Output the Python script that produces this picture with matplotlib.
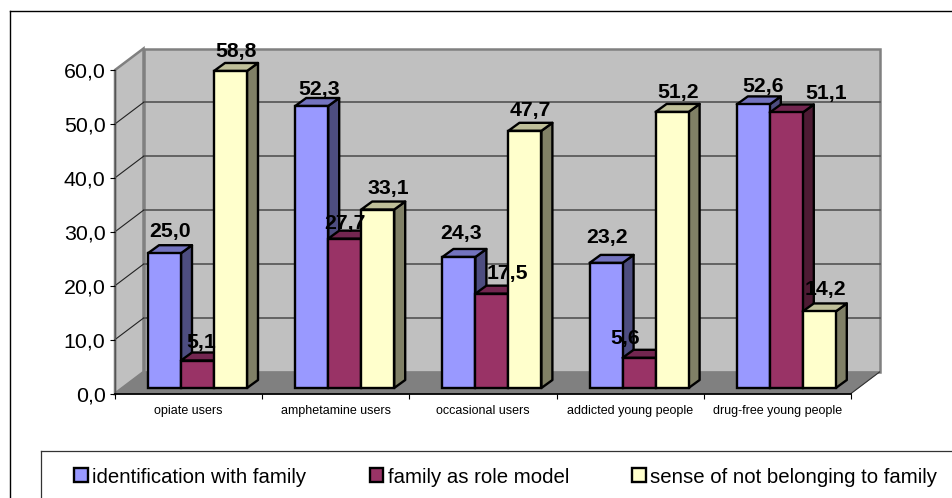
import matplotlib
matplotlib.use("Agg")
import matplotlib.pyplot as plt
from matplotlib.lines import Line2D
from matplotlib.patches import Polygon, Patch

plt.rcParams['font.family'] = ['Liberation Sans', 'DejaVu Sans']

categories = ["opiate users", "amphetamine users", "occasional users",
              "addicted young people", "drug-free young people"]
identification = [25.0, 52.3, 24.3, 23.2, 52.6]
role_model = [5.1, 27.7, 17.5, 5.6, 51.1]
not_belonging = [58.8, 33.1, 47.7, 51.2, 14.2]
series_names = ["identification with family", "family as role model",
                "sense of not belonging to family"]
y_ticks = [0, 10, 20, 30, 40, 50, 60]

# per-label nudges in pixels (right, up), by series then category
label_dx = [[0, 2, -4, -5, 4], [-2, -6, 10, -20, 34], [0, 5, 0, 0, 0]]
label_dy = [[2, -3, 4, 6, -2], [-1, -4, 1, 0, 0], [0, 2, 1, 0, 2]]

W, H = 952, 498
fig = plt.figure(figsize=(W / 100, H / 100), dpi=100, facecolor="white")
L, R, B, T = 115, 851, 393.5, 70
ax = fig.add_axes([L / W, 1 - B / H, (R - L) / W, (B - T) / H])
ax.set_xlim(0, 5)
ax.set_ylim(0, 60)
ax.patch.set_visible(False)

px_x = (R - L) / 5
px_y = (B - T) / 60
WDX, WDY = 28.5 / px_x, 21.5 / px_y      # wall depth
BOX, BOY = 9.0 / px_x, 5.5 / px_y        # bar plane offset
BDX, BDY = 11.0 / px_x, 8.0 / px_y       # bar depth
BW = 33.0 / px_x

wall = "#C0C0C0"
edge = "#808080"
ax.add_patch(Polygon([(WDX, WDY), (5 + WDX, WDY), (5 + WDX, 60 + WDY), (WDX, 60 + WDY)],
                     fc=wall, ec=edge, lw=1.8, clip_on=False, zorder=1))
ax.add_patch(Polygon([(0, 0), (WDX, WDY), (WDX, 60 + WDY), (0, 60)],
                     fc=wall, ec=edge, lw=1.8, clip_on=False, zorder=1.1))
ax.add_patch(Polygon([(0, 0), (5, 0), (5 + WDX, WDY), (WDX, WDY)],
                     fc=edge, ec=edge, lw=0.5, clip_on=False, zorder=1.2))
for v in y_ticks[1:-1]:
    ax.plot([WDX, 5 + WDX], [v + WDY, v + WDY], color="#4A4A4A", lw=1.1, clip_on=False, zorder=1.3)
    ax.plot([0, WDX], [v, v + WDY], color="#222222", lw=0.8, clip_on=False, zorder=1.3)
ax.plot([5, 5 + WDX], [0, WDY], color="#333333", lw=0.8, clip_on=False, zorder=1.3)

series = [identification, role_model, not_belonging]
fronts = ["#9999FF", "#993366", "#FFFFCC"]
tops = ["#7373BF", "#732650", "#BFBF99"]
sides = ["#4D4D80", "#4D1A33", "#808066"]
z = 2.0
for c in range(len(categories)):
    for s, vals in enumerate(series):
        x0 = c + 33.0 / px_x + s * BW
        v = vals[c]
        y0 = BOY
        y1 = v + BOY
        x1 = x0 + BW
        ax.add_patch(Polygon([(x1, y0), (x1 + BDX, y0 + BDY), (x1 + BDX, y1 + BDY), (x1, y1)],
                             fc=sides[s], ec="black", lw=1.7, clip_on=False, zorder=z, joinstyle="round"))
        ax.add_patch(Polygon([(x0, y1), (x1, y1), (x1 + BDX, y1 + BDY), (x0 + BDX, y1 + BDY)],
                             fc=tops[s], ec="black", lw=1.7, clip_on=False, zorder=z, joinstyle="round"))
        ax.bar(x0, v, BW, bottom=BOY, align="edge", color=fronts[s], edgecolor="black",
               linewidth=1.7, clip_on=False, zorder=z + 0.01)
        ax.annotate(f"{v:.1f}".replace(".", ","), (x0 + BW / 2, y1),
                    xytext=(4.2 + label_dx[s][c] * 0.72, 14 + label_dy[s][c] * 0.72),
                    textcoords="offset points", ha="center", va="center",
                    fontsize=15.3, fontweight="bold", color="black", zorder=50,
                    annotation_clip=False)
        z += 0.1

for sp in ("top", "right"):
    ax.spines[sp].set_visible(False)
ax.spines["left"].set_color("#555555")
ax.spines["left"].set_linewidth(1.0)
ax.spines["left"].set_zorder(1.5)
ax.spines["bottom"].set_color("black")
ax.spines["bottom"].set_linewidth(1.3)
ax.spines["bottom"].set_zorder(1.5)

ax.set_yticks(y_ticks)
ax.set_yticklabels([f"{v:.1f}".replace(".", ",") for v in y_ticks], fontsize=15.4, color="black")
ax.tick_params(axis="y", length=3.6, width=0.8, pad=3.2, color="black")
ax.set_xticks(range(6))
ax.set_xticklabels([])
ax.tick_params(axis="x", which="major", length=3.6, width=0.8, color="black")
ax.set_xticks([i + 0.5 for i in range(5)], minor=True)
ax.set_xticklabels(categories, minor=True, fontsize=9, color="black")
ax.tick_params(axis="x", which="minor", length=0, pad=8)

def fig_line(x, y, **kw):
    fig.add_artist(Line2D([a / W for a in x], [1 - b / H for b in y],
                          transform=fig.transFigure, **kw))

fig_line([9.5, 9.5], [11.5, H], color="black", lw=1.0)
fig_line([9.5, W], [11.5, 11.5], color="black", lw=1.0)
fig_line([40.5, 40.5], [450.5, H], color="#333333", lw=0.9)
fig_line([40.5, W], [450.5, 450.5], color="#333333", lw=0.9)

handles = [Patch(facecolor=fronts[i], edgecolor="black", linewidth=1.7) for i in range(3)]
fig.legend(handles, series_names, ncol=3, frameon=False, fontsize=14.7,
           loc="center left", bbox_to_anchor=(66 / W, 1 - 477 / H), borderaxespad=0,
           handlelength=0.68, handleheight=0.68, handletextpad=0.2, columnspacing=3.1,
           labelcolor="black")

fig.savefig("out.png", dpi=100, facecolor="white")
